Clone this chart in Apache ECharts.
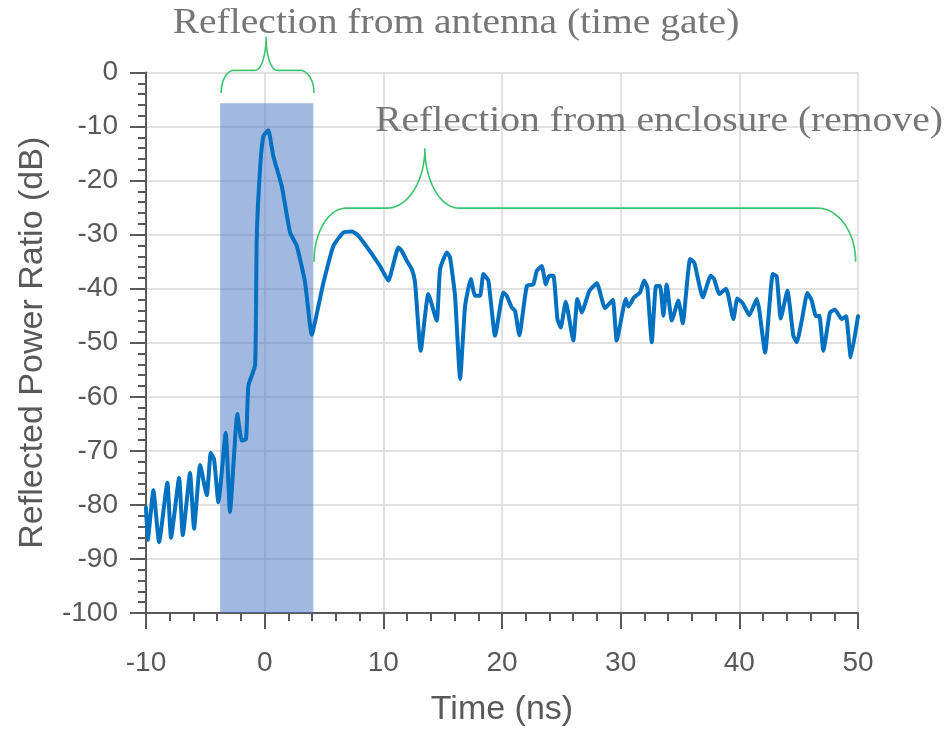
<!DOCTYPE html>
<html>
<head>
<meta charset="utf-8">
<script src="https://cdn.jsdelivr.net/npm/echarts@6/dist/echarts.min.js"></script>
<style>
  html, body { margin: 0; padding: 0; background: #ffffff; }
  #chart { width: 946px; height: 732px; }
</style>
</head>
<body>
<div id="chart"></div>
<script>
// Time-domain reflection trace: time (ns) and reflected power ratio (dB)
const timeNs = [
  -10.00, -9.85, -9.38, -8.90, -8.20, -7.89, -7.21, -6.90, -6.29, -5.95,
  -5.44, -4.88, -4.54, -4.26, -3.90, -3.28, -2.92, -2.30, -1.93, -1.57,
  -1.37, -0.81, -0.67, -0.39, -0.11, 0.31, 0.73, 1.44, 2.14, 2.71,
  3.40, 3.97, 4.53, 4.95, 5.79, 6.63, 7.34, 7.90, 9.72, 10.42,
  11.27, 11.55, 11.97, 12.40, 12.67, 13.15, 13.79, 14.50, 14.78, 15.35,
  15.62, 16.04, 16.47, 16.89, 17.37, 17.73, 18.15, 18.43, 18.85, 19.42,
  20.11, 20.40, 20.82, 21.10, 21.46, 22.09, 22.64, 22.93, 23.35, 23.69,
  23.97, 24.33, 24.67, 24.95, 25.37, 26.01, 26.35, 26.72, 27.36, 27.99,
  28.68, 29.33, 29.67, 30.43, 30.65, 31.13, 31.63, 31.97, 32.25, 32.62,
  32.98, 33.32, 33.60, 33.88, 34.31, 34.86, 35.23, 35.85, 36.21, 36.92,
  37.59, 37.87, 38.32, 38.88, 39.50, 39.83, 40.29, 40.84, 41.47, 41.69,
  42.17, 42.82, 43.15, 43.49, 44.05, 44.55, 44.84, 45.26, 45.73, 46.10,
  46.46, 46.74, 47.08, 47.64, 48.06, 48.63, 48.99, 49.39, 50.00
];
const powerDb = [
  -80.5, -86.5, -77.3, -86.9, -75.9, -86.1, -75.0, -85.6, -74.1, -84.4,
  -72.6, -78.2, -70.4, -71.6, -79.5, -66.7, -81.3, -63.2, -68.1, -67.8,
  -57.9, -54.2, -30.8, -17.9, -11.8, -10.7, -15.5, -21.0, -29.6, -32.1,
  -38.8, -48.5, -43.2, -38.9, -32.1, -29.6, -29.4, -30.2, -35.8, -38.5,
  -32.4, -33.0, -34.8, -36.4, -38.8, -51.5, -41.0, -45.9, -36.4, -33.3,
  -34.2, -41.3, -56.7, -43.2, -38.2, -41.3, -41.3, -37.3, -38.5, -48.7,
  -40.7, -41.3, -43.5, -44.1, -48.6, -39.5, -39.2, -36.7, -35.8, -39.2,
  -37.6, -37.6, -45.6, -47.2, -42.4, -49.6, -41.9, -44.4, -40.4, -39.0,
  -43.6, -42.1, -49.6, -41.9, -43.3, -41.6, -40.7, -38.5, -39.8, -49.9,
  -39.5, -39.5, -45.0, -39.2, -45.9, -42.2, -46.4, -34.5, -35.2, -41.6,
  -37.6, -38.2, -41.0, -40.0, -45.6, -41.8, -42.7, -44.9, -41.9, -44.1,
  -51.8, -37.3, -37.7, -45.5, -40.4, -48.7, -49.9, -45.9, -40.8, -42.2,
  -45.1, -45.0, -51.5, -44.4, -43.9, -45.6, -45.1, -52.7, -45.1
];

// Time gate window: start (ns), end (ns), top level (dB)
const gateWindow = [-3.75, 4.1, -5.7];

// Annotation captions
const captions = ['Reflection from antenna (time gate)', 'Reflection from enclosure (remove)'];

// Curly brackets in data units: [leftEnd, leftShoulder, leftInner, tip, rightInner, rightShoulder, rightEnd] (ns)
// and levels [endLevel, barLevel, tipLevel] (dB)
const braceGateX = [-3.67, -2.58, -0.81, 0.12, 1.05, 2.98, 4.16];
const braceGateY = [-3.8, 0.4, 6.6];
const braceEnclX = [4.16, 6.86, 10.3, 13.5, 16.4, 46.6, 49.8];
const braceEnclY = [-35.0, -25.1, -14.0];

const axisColor = '#595959';
const chart = echarts.init(document.getElementById('chart'), null, { renderer: 'canvas' });

const seriesData = timeNs.map((t, i) => [t, powerDb[i]]);

chart.setOption({
  animation: false,
  backgroundColor: '#ffffff',
  grid: { left: 146, right: 88, top: 72.5, bottom: 118, containLabel: false },
  xAxis: {
    type: 'value', min: -10, max: 50, interval: 10,
    name: 'Time (ns)', nameLocation: 'middle', nameGap: 80,
    nameTextStyle: { color: axisColor, fontSize: 34, fontFamily: 'Liberation Sans' },
    axisLine: { onZero: false, lineStyle: { color: axisColor, width: 2 } },
    axisTick: { show: true, length: 16, lineStyle: { color: axisColor, width: 2 } },
    minorTick: { show: true, splitNumber: 5, length: 8, lineStyle: { color: axisColor, width: 2 } },
    axisLabel: { color: axisColor, fontSize: 28, margin: 36, fontFamily: 'Liberation Sans' },
    splitLine: { show: true, lineStyle: { color: '#d9d9d9', width: 1.5 } }
  },
  yAxis: {
    type: 'value', min: -100, max: 0, interval: 10,
    name: 'Reflected Power Ratio (dB)', nameLocation: 'middle', nameGap: 96,
    nameTextStyle: { color: axisColor, fontSize: 34, fontFamily: 'Liberation Sans' },
    axisLine: { show: true, onZero: false, lineStyle: { color: axisColor, width: 2 } },
    axisTick: { show: true, length: 16, lineStyle: { color: axisColor, width: 2 } },
    minorTick: { show: true, splitNumber: 5, length: 8, lineStyle: { color: axisColor, width: 2 } },
    axisLabel: { color: axisColor, fontSize: 28, margin: 28, fontFamily: 'Liberation Sans' },
    splitLine: { show: true, lineStyle: { color: '#d9d9d9', width: 1.5 } }
  },
  series: [{
    type: 'line',
    data: seriesData,
    showSymbol: false,
    smooth: 0.15,
    lineStyle: { color: '#0070c0', width: 4, join: 'round', cap: 'round' },
    z: 3,
    markArea: {
      silent: true,
      itemStyle: { color: 'rgba(68,114,196,0.5)' },
      data: [[
        { xAxis: gateWindow[0], yAxis: -100 },
        { xAxis: gateWindow[1], yAxis: gateWindow[2] }
      ]]
    }
  }]
});

// Sample a cubic Bezier segment into points
function cubic(p0, p1, p2, p3, n, out) {
  for (let i = 1; i <= n; i++) {
    const t = i / n, u = 1 - t;
    out.push([
      u * u * u * p0[0] + 3 * u * u * t * p1[0] + 3 * u * t * t * p2[0] + t * t * t * p3[0],
      u * u * u * p0[1] + 3 * u * u * t * p1[1] + 3 * u * t * t * p2[1] + t * t * t * p3[1]
    ]);
  }
}

// Build a curly bracket (opening downward) as a point list from data-unit anchors
function bracePoints(xs, ys) {
  const px = xs.map(x => chart.convertToPixel({ xAxisIndex: 0 }, x));
  const [yEnd, yBar, yTip] = ys.map(y => chart.convertToPixel({ yAxisIndex: 0 }, y));
  const k = 0.55, n = 24;
  const pts = [[px[0], yEnd]];
  cubic([px[0], yEnd], [px[0], yEnd - k * (yEnd - yBar)], [px[1] - k * (px[1] - px[0]), yBar], [px[1], yBar], n, pts);
  pts.push([px[2], yBar]);
  cubic([px[2], yBar], [px[2] + k * (px[3] - px[2]), yBar], [px[3], yTip + k * (yBar - yTip)], [px[3], yTip], n, pts);
  cubic([px[3], yTip], [px[3], yTip + k * (yBar - yTip)], [px[4] - k * (px[4] - px[3]), yBar], [px[4], yBar], n, pts);
  pts.push([px[5], yBar]);
  cubic([px[5], yBar], [px[5] + k * (px[6] - px[5]), yBar], [px[6], yEnd - k * (yEnd - yBar)], [px[6], yEnd], n, pts);
  return pts;
}

const braceStyle = { stroke: '#3cc46c', lineWidth: 1.6, fill: null };
const captionStyle = {
  fill: '#767676', fontSize: 35, fontFamily: 'Liberation Serif',
  textAlign: 'center', textVerticalAlign: 'middle'
};

chart.setOption({
  graphic: [
    { type: 'polyline', shape: { points: bracePoints(braceGateX, braceGateY) }, style: braceStyle, z: 10 },
    { type: 'polyline', shape: { points: bracePoints(braceEnclX, braceEnclY) }, style: braceStyle, z: 10 },
    { type: 'text', x: 456, y: 24, scaleX: 1.13, style: Object.assign({ text: captions[0] }, captionStyle), z: 10 },
    { type: 'text', x: 659, y: 122, scaleX: 1.13, style: Object.assign({ text: captions[1] }, captionStyle), z: 10 }
  ]
});
</script>
</body>
</html>
